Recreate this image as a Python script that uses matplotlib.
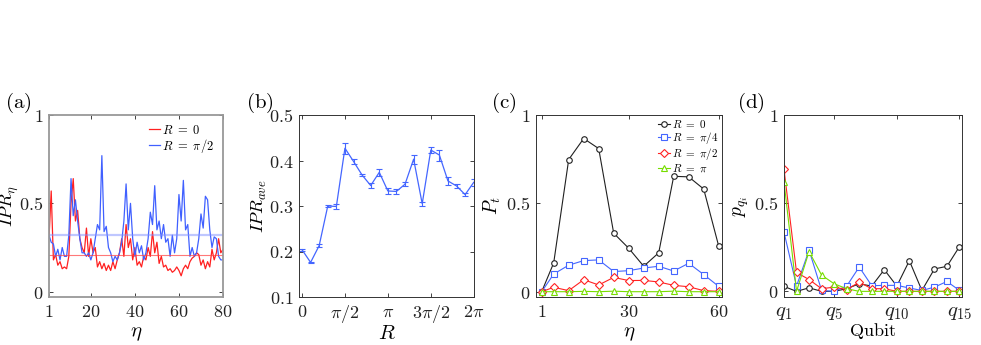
import numpy as np
import matplotlib.pyplot as plt

plt.rcParams['mathtext.fontset'] = 'cm'
plt.rcParams['font.family'] = 'serif'
plt.rcParams['font.serif'] = ['DejaVu Serif']

# (a) IPR vs eta
eta_a = np.arange(1, 81)
ipr_r0 = [0.30, 0.57, 0.18, 0.21, 0.15, 0.17, 0.13, 0.14, 0.13, 0.20,
          0.50, 0.64, 0.40, 0.46, 0.30, 0.25, 0.22, 0.36, 0.20, 0.30,
          0.22, 0.25, 0.14, 0.17, 0.13, 0.16, 0.12, 0.15, 0.12, 0.17,
          0.13, 0.18, 0.22, 0.30, 0.20, 0.38, 0.25, 0.30, 0.18, 0.25,
          0.15, 0.17, 0.14, 0.20, 0.18, 0.25, 0.20, 0.34, 0.22, 0.28,
          0.16, 0.20, 0.14, 0.15, 0.12, 0.13, 0.11, 0.12, 0.14, 0.12,
          0.09, 0.13, 0.15, 0.13, 0.17, 0.19, 0.20, 0.22, 0.21, 0.15,
          0.18, 0.13, 0.17, 0.14, 0.24, 0.18, 0.22, 0.30, 0.22, 0.24]
ipr_r2 = [0.32, 0.28, 0.27, 0.20, 0.24, 0.18, 0.25, 0.20, 0.20, 0.32,
          0.64, 0.43, 0.52, 0.40, 0.30, 0.22, 0.22, 0.20, 0.22, 0.18,
          0.22, 0.30, 0.38, 0.35, 0.77, 0.34, 0.37, 0.25, 0.22, 0.17,
          0.20, 0.18, 0.22, 0.28, 0.40, 0.61, 0.35, 0.50, 0.30, 0.20,
          0.28, 0.22, 0.26, 0.18, 0.22, 0.30, 0.45, 0.38, 0.60, 0.35,
          0.40, 0.30, 0.38, 0.28, 0.30, 0.20, 0.32, 0.22, 0.30, 0.55,
          0.40, 0.63, 0.35, 0.38, 0.20, 0.25, 0.20, 0.22, 0.30, 0.44,
          0.36, 0.54, 0.52, 0.35, 0.25, 0.31, 0.30, 0.20, 0.18, 0.18]
mean_r0 = 0.21
mean_r2 = 0.32

# (b) average IPR vs R
R_b = np.arange(21) * np.pi / 10
ipr_ave = [0.204, 0.176, 0.213, 0.300, 0.299, 0.427, 0.398, 0.368, 0.345, 0.374,
           0.333, 0.332, 0.348, 0.403, 0.305, 0.423, 0.412, 0.355, 0.344, 0.325, 0.352]
ipr_err = [0.002, 0.002, 0.004, 0.003, 0.006, 0.012, 0.006, 0.003, 0.005, 0.007,
           0.006, 0.005, 0.004, 0.010, 0.004, 0.006, 0.012, 0.008, 0.004, 0.004, 0.008]

# (c) P_t vs eta
eta_c = [1, 5, 10, 15, 20, 25, 30, 35, 40, 45, 50, 55, 60]
pt_0 = [0.0, 0.163, 0.748, 0.867, 0.81, 0.331, 0.246, 0.144, 0.22, 0.653, 0.65, 0.581, 0.258]
pt_q = [0.0, 0.10, 0.15, 0.176, 0.18, 0.114, 0.119, 0.134, 0.144, 0.117, 0.161, 0.097, 0.03]
pt_h = [0.0, 0.025, 0.006, 0.068, 0.038, 0.081, 0.063, 0.064, 0.055, 0.036, 0.028, 0.006, 0.002]
pt_p = [0.0, 0.0, 0.0, 0.002, 0.0, 0.003, 0.0, 0.0, 0.0, 0.003, 0.0, 0.0, 0.0]

# (d) qubit populations
qubit = np.arange(1, 16)
pq_0 = [0.028, 0.0, 0.02, 0.0, 0.0, 0.015, 0.043, 0.03, 0.123, 0.03, 0.174, 0.005, 0.127, 0.142, 0.254]
pq_q = [0.336, 0.03, 0.234, 0.005, 0.0, 0.03, 0.138, 0.032, 0.034, 0.034, 0.019, 0.005, 0.024, 0.056, 0.005]
pq_h = [0.693, 0.107, 0.067, 0.015, 0.024, 0.01, 0.052, 0.015, 0.015, 0.0, 0.0, 0.0, 0.0, 0.0, 0.0]
pq_p = [0.622, 0.0, 0.226, 0.092, 0.043, 0.015, 0.0, 0.0, 0.0, 0.0, 0.0, 0.0, 0.0, 0.0, 0.0]

labels_R = [r'$R\ =\ 0$', r'$R\ =\ \pi/4$', r'$R\ =\ \pi/2$', r'$R\ =\ \pi$']
c_black, c_blue, c_red, c_green = '#202020', '#4466ff', '#ff2222', '#77dd00'

fig = plt.figure(figsize=(9.81, 3.45), dpi=100)
H = 345.0
bot = 1 - 297 / H
hgt = (297 - 115) / H
ax_a = fig.add_axes([49 / 981, bot, 174 / 981, hgt])
ax_b = fig.add_axes([299 / 981, bot, 175 / 981, hgt])
ax_c = fig.add_axes([536 / 981, bot, 186 / 981, hgt])
ax_d = fig.add_axes([784 / 981, bot, 178 / 981, hgt])

for ax in (ax_a, ax_b, ax_c, ax_d):
    ax.tick_params(direction='in', top=True, right=True, length=3, width=0.6,
                   labelsize=13, colors='#222222', pad=4)
    for s in ax.spines.values():
        s.set_color('#333333')
        s.set_linewidth(0.7)

# (a)
ax_a.plot(eta_a, ipr_r0, color='#ff2020', lw=0.9, label=labels_R[0])
ax_a.plot(eta_a, ipr_r2, color='#4060ff', lw=0.9, label=labels_R[2])
ax_a.axhline(mean_r0, color='#ff4040', lw=0.8, alpha=0.7)
ax_a.axhline(mean_r2, color='#8090ff', lw=1.6, alpha=0.5)
ax_a.set_xlim(1, 80)
ax_a.set_ylim(-0.03, 1)
ax_a.set_xticks([1, 20, 40, 60, 80])
ax_a.set_xticklabels(['$1$', '$20$', '$40$', '$60$', '$80$'])
ax_a.set_yticks([0, 0.5, 1])
ax_a.set_yticklabels(['$0$', '$0.5$', '$1$'])
for s in ax_a.spines.values():
    s.set_color('#999999')
    s.set_linewidth(1.3)
ax_a.set_ylabel(r'$IPR_\eta$', fontsize=13)
ax_a.yaxis.set_label_coords(-0.165, 0.5)
ax_a.set_xlabel(r'$\eta$', fontsize=15)
ax_a.xaxis.set_label_coords(0.5, -0.15)
ax_a.legend(loc='upper right', frameon=False, fontsize=9, handlelength=0.9,
            handletextpad=0.2, labelspacing=0.0, borderaxespad=0.3)

# (b)
ax_b.errorbar(R_b, ipr_ave, yerr=ipr_err, color='#4466ff', lw=0.9,
              capsize=2, elinewidth=0.8, capthick=0.8)
ax_b.set_xlim(-0.11, 2 * np.pi + 0.01)
ax_b.set_ylim(0.1, 0.5)
ax_b.set_xticks([0, np.pi / 2, np.pi, 3 * np.pi / 2, 2 * np.pi])
ax_b.set_xticklabels(['$0$', r'$\pi/2$', r'$\pi$', r'$3\pi/2$', r'$2\pi$'])
ax_b.set_yticks([0.1, 0.2, 0.3, 0.4, 0.5])
ax_b.set_yticklabels(['$0.1$', '$0.2$', '$0.3$', '$0.4$', '$0.5$'])
ax_b.set_ylabel(r'$IPR_{ave}$', fontsize=13)
ax_b.yaxis.set_label_coords(-0.17, 0.5)
ax_b.set_xlabel(r'$R$', fontsize=15)
ax_b.xaxis.set_label_coords(0.5, -0.15)

# (c)
mk = dict(ms=4, mfc='white', mew=0.8, lw=0.8)
mkd = dict(ms=3.6, mfc='white', mew=0.8, lw=0.8)
ax_c.plot(eta_c, pt_0, '-o', color=c_black, label=labels_R[0], **mk)
ax_c.plot(eta_c, pt_q, '-s', color=c_blue, label=labels_R[1], **mk)
ax_c.plot(eta_c, pt_h, '-D', color=c_red, label=labels_R[2], **mkd)
ax_c.plot(eta_c, pt_p, '-^', color=c_green, label=labels_R[3], **mk)
ax_c.set_xlim(-0.9, 61.1)
ax_c.set_ylim(-0.03, 1)
ax_c.set_xticks([1, 30, 60])
ax_c.set_xticklabels(['$1$', '$30$', '$60$'])
ax_c.set_yticks([0, 0.5, 1])
ax_c.set_yticklabels(['$0$', '$0.5$', '$1$'])
ax_c.set_ylabel(r'$P_t$', fontsize=14)
ax_c.yaxis.set_label_coords(-0.175, 0.5)
ax_c.set_xlabel(r'$\eta$', fontsize=15)
ax_c.xaxis.set_label_coords(0.5, -0.15)
ax_c.legend(loc='upper right', frameon=False, fontsize=8, handlelength=1.1,
            handletextpad=0.2, labelspacing=0.0, borderaxespad=0.1,
            borderpad=0.2)

# (d)
ax_d.plot(qubit, pq_0, '-o', color=c_black, **mk)
ax_d.plot(qubit, pq_q, '-s', color=c_blue, **mk)
ax_d.plot(qubit, pq_h, '-D', color=c_red, **mkd)
ax_d.plot(qubit, pq_p, '-^', color=c_green, **mk)
ax_d.set_xlim(1, 15.2)
ax_d.set_ylim(-0.032, 1)
ax_d.set_xticks([1, 5, 10, 15])
ax_d.set_xticklabels(['$q_1$', '$q_5$', '$q_{10}$', '$q_{15}$'], fontsize=15)
ax_d.set_yticks([0, 0.5, 1])
ax_d.set_yticklabels(['$0$', '$0.5$', '$1$'])
ax_d.set_ylabel(r'$p_{q_i}$', fontsize=14)
ax_d.yaxis.set_label_coords(-0.185, 0.5)
ax_d.set_xlabel(r'$\mathrm{Qubit}$', fontsize=13)
ax_d.xaxis.set_label_coords(0.5, -0.13)

for x0, t in [(5, '(a)'), (246, '(b)'), (491, '(c)'), (737, '(d)')]:
    fig.text(x0 / 981, 1 - 103 / H, r'$\mathrm{' + t + '}$', fontsize=15,
             ha='left', va='center')

fig.savefig('out.png', dpi=100)
